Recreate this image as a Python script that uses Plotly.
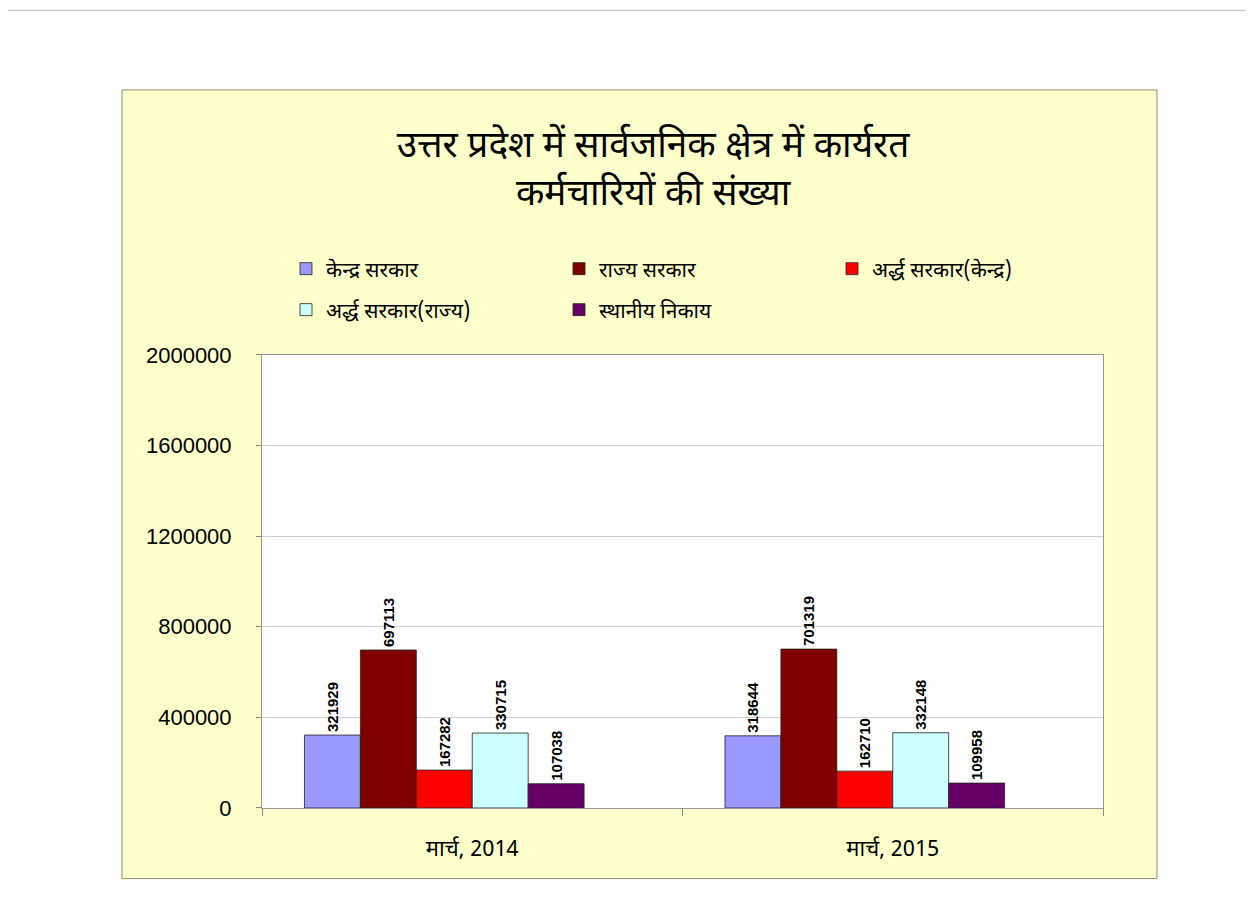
import plotly.graph_objects as go

# ---------------- data ----------------

categories = ["मार्च, 2014", "मार्च, 2015"]

series_names = [
    "केन्द्र सरकार",
    "राज्य सरकार",
    "अर्द्ध सरकार(केन्द्र)",
    "अर्द्ध सरकार(राज्य)",
    "स्थानीय निकाय",
]

kendra_sarkar = [321929, 318644]
rajya_sarkar = [697113, 701319]
ardh_sarkar_kendra = [167282, 162710]
ardh_sarkar_rajya = [330715, 332148]
sthaniya_nikay = [107038, 109958]

y_ticks = [0, 400000, 800000, 1200000, 1600000, 2000000]

title_text = "उत्तर प्रदेश में सार्वजनिक क्षेत्र में कार्यरत<br>कर्मचारियों की संख्या"

# ---------------- style ----------------

colors = ["#9999FF", "#800000", "#FF0000", "#CCFFFF", "#660066"]
hindi_font = "Noto Sans Devanagari, Lohit Devanagari, Mangal, sans-serif"
num_font = "Liberation Sans, Arial, sans-serif"

# the page body has an 8px margin, so the figure is drawn 8px smaller
W, H = 1245, 907

# Excel-like layout: 6 slots per group (last one empty), gap width 150%
slot_w = 0.133
group_start = -0.5 + 0.101

all_values = [kendra_sarkar, rajya_sarkar, ardh_sarkar_kendra, ardh_sarkar_rajya, sthaniya_nikay]
# first three entries on legend row 1, last two on row 2
legend_ids = ["legend", "legend", "legend", "legend2", "legend2"]

fig = go.Figure()

for i, (name, vals) in enumerate(zip(series_names, all_values)):
    fig.add_trace(go.Bar(
        x=categories,
        y=vals,
        name=name,
        legend=legend_ids[i],
        width=slot_w,
        offset=group_start + i * slot_w,
        marker=dict(color=colors[i], line=dict(color="#222222", width=0.8)),
        text=[str(v) for v in vals],
        textposition="outside",
        textangle=-90,
        constraintext="none",
        cliponaxis=False,
        textfont=dict(family="Liberation Sans Narrow, Arial Narrow, " + num_font,
                      size=15, color="#000000", weight="bold"),
    ))

# ---------------- background panels ----------------

shapes = [
    # slide border (right edge visible)
    dict(type="rect", xref="paper", yref="paper", x0=-0.32, x1=1.172, y0=-0.25, y1=1.76,
         line=dict(color="#BBBBBB", width=1), fillcolor="rgba(0,0,0,0)", layer="below"),
    # yellow chart area
    dict(type="rect", xref="paper", yref="paper", x0=-0.1665, x1=1.0642, y0=-0.1558, y1=1.5844,
         line=dict(color="#8E8E70", width=1), fillcolor="#FFFFCC", layer="below"),
    # white plot area
    dict(type="rect", xref="paper", yref="paper", x0=0, x1=1, y0=0, y1=1,
         line=dict(width=0), fillcolor="#FFFFFF", layer="below"),
]

legend_style = dict(
    orientation="h",
    xref="container", x=0.2233, xanchor="left",
    yref="container", yanchor="middle",
    entrywidth=228, entrywidthmode="pixels",
    bgcolor="rgba(0,0,0,0)",
    font=dict(family=hindi_font, size=21, color="#000000"),
    itemwidth=30,
    traceorder="normal",
)

fig.update_layout(
    width=W,
    height=H,
    margin=dict(l=254, r=150, t=338, b=107),
    paper_bgcolor="#FFFFFF",
    plot_bgcolor="rgba(0,0,0,0)",
    shapes=shapes,
    barmode="group",
    title=dict(
        text=title_text,
        x=0.465, xref="paper", xanchor="center",
        y=1 - 149 / H, yref="container", yanchor="middle",
        font=dict(family=hindi_font, size=37, color="#000000"),
    ),
    legend=dict(legend_style, y=1 - 261 / H),
    legend2=dict(legend_style, y=1 - 302 / H),
    showlegend=True,
)

fig.update_xaxes(
    type="category",
    range=[-0.5, 1.5],
    showline=True, linecolor="#999999", linewidth=1, mirror=True,
    ticks="outside", tickson="boundaries", ticklen=7, tickcolor="#888888",
    ticklabelstandoff=21,
    tickfont=dict(family=hindi_font, size=22, color="#000000"),
    showgrid=False,
)

fig.update_yaxes(
    range=[0, 2000000],
    tickvals=y_ticks,
    ticktext=[str(v) for v in y_ticks],
    showline=True, linecolor="#999999", linewidth=1, mirror=True,
    ticks="outside", ticklen=5, tickcolor="#888888",
    ticklabelstandoff=20,
    tickfont=dict(family=num_font, size=22, color="#000000"),
    showgrid=True, gridcolor="#D0D0D0", gridwidth=1,
    zeroline=False,
)

fig.write_html("out.html")
